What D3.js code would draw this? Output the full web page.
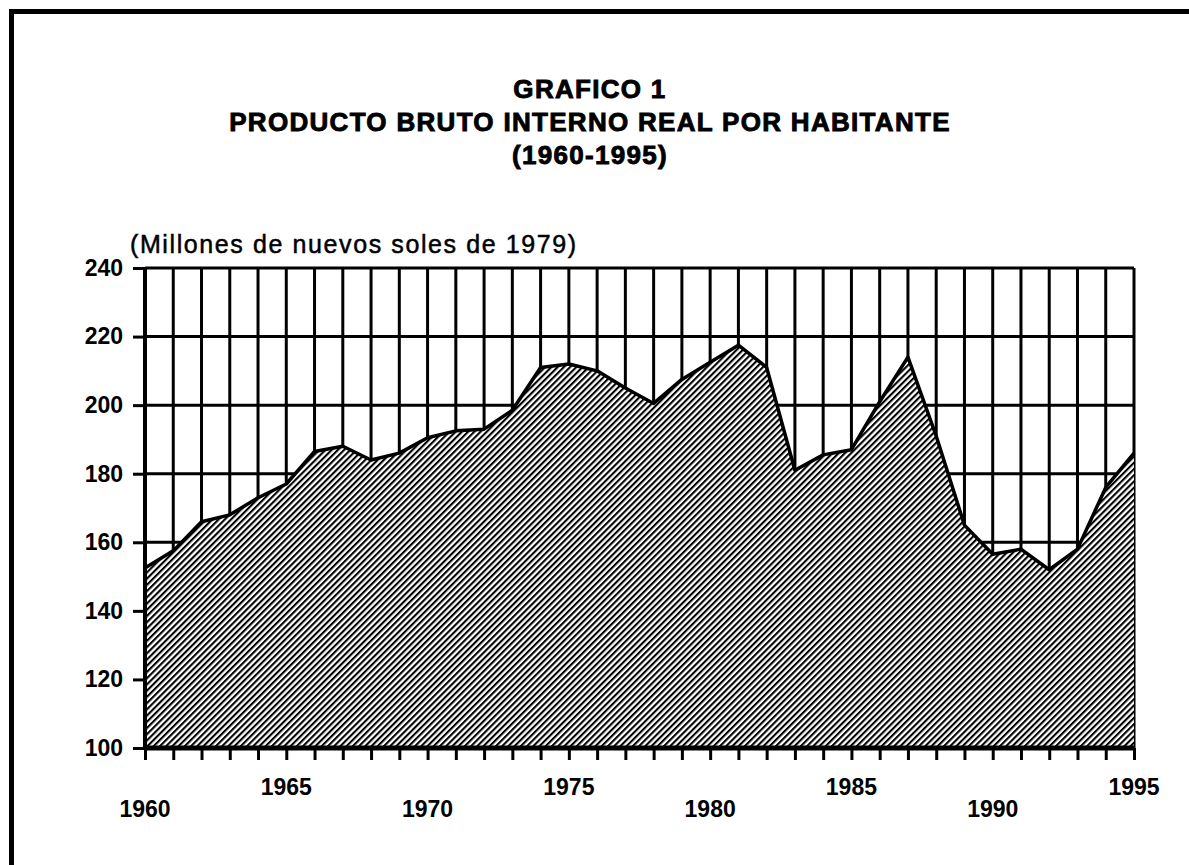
<!DOCTYPE html>
<html>
<head>
	<title>Grafico 1 - PBI real por habitante</title>
	<script src="https://cdnjs.cloudflare.com/ajax/libs/d3/7.8.5/d3.min.js"></script>
	<style>
		body { margin: 0; background: #fff; }
		text { font-family: "Liberation Sans", Arial, Helvetica, sans-serif; fill: #000; }
	</style>
</head>
<body>

<svg width="1189" height="865"></svg>

<script type="text/javascript">

	// datos
	var years = [1960, 1961, 1962, 1963, 1964, 1965, 1966, 1967, 1968, 1969,
	             1970, 1971, 1972, 1973, 1974, 1975, 1976, 1977, 1978, 1979,
	             1980, 1981, 1982, 1983, 1984, 1985, 1986, 1987, 1988, 1989,
	             1990, 1991, 1992, 1993, 1994, 1995];
	var pbi = [152.5, 157.5, 166, 168, 173, 177, 186.5, 188, 184, 186,
	           190.5, 192.5, 193, 198.5, 211, 212, 210, 205, 200.5, 207.5,
	           212.5, 217.5, 211, 181, 185.5, 187, 201, 214, 191, 165,
	           156.5, 158, 152, 158, 176, 186];
	var yTicks = [100, 120, 140, 160, 180, 200, 220, 240];
	var xLabelsUpper = [1965, 1975, 1985, 1995];
	var xLabelsLower = [1960, 1970, 1980, 1990];
	var titleLines = ["GRAFICO 1", "PRODUCTO BRUTO INTERNO REAL POR HABITANTE", "(1960-1995)"];
	var unitLabel = "(Millones de nuevos soles de 1979)";

	var data = years.map(function(d, i) { return {year: d, value: pbi[i]}; });

	var svg = d3.select("svg"),
	    margin = {top: 268, right: 55, bottom: 117, left: 145},
	    width = +svg.attr("width") - margin.left - margin.right,
	    height = +svg.attr("height") - margin.top - margin.bottom;

	// marco de la pagina (solo se ven borde izquierdo y superior)
	svg.append("rect")
		.attr("x", 11.5).attr("y", 11.5)
		.attr("width", 1400).attr("height", 1200)
		.attr("fill", "none")
		.attr("stroke", "#000")
		.attr("stroke-width", 5);

	// trama diagonal
	var pattern = svg.append("defs").append("pattern")
		.attr("id", "hatch")
		.attr("patternUnits", "userSpaceOnUse")
		.attr("width", 4.4)
		.attr("height", 10)
		.attr("patternTransform", "rotate(45)");
	pattern.append("rect").attr("width", 4.4).attr("height", 10).attr("fill", "#fff");
	pattern.append("rect").attr("width", 2.1).attr("height", 10).attr("fill", "#000");

	// titulo
	svg.selectAll(".title")
		.data(titleLines)
		.enter().append("text")
		.attr("class", "title")
		.attr("x", 590)
		.attr("y", function(d, i) { return [98, 131, 164][i]; })
		.attr("text-anchor", "middle")
		.attr("font-size", 26)
		.attr("font-weight", "bold")
		.attr("letter-spacing", 1.3)
		.attr("stroke", "#000")
		.attr("stroke-width", 0.9)
		.text(function(d) { return d; });

	svg.append("text")
		.attr("x", 130)
		.attr("y", 253)
		.attr("font-size", 25)
		.attr("letter-spacing", 1.6)
		.attr("stroke", "#000")
		.attr("stroke-width", 0.5)
		.text(unitLabel);

	var g = svg.append("g").attr("transform", "translate(" + margin.left + "," + margin.top + ")");

	var x = d3.scaleLinear().domain([1960, 1995]).range([0, width]);
	var y = d3.scaleLinear().domain([100, 240]).range([height, 0]);

	// cuadricula
	g.append("g").selectAll("line")
		.data(years)
		.enter().append("line")
		.attr("x1", function(d) { return x(d); })
		.attr("x2", function(d) { return x(d); })
		.attr("y1", y(240))
		.attr("y2", y(100))
		.attr("stroke", "#000")
		.attr("stroke-width", 3);

	g.append("g").selectAll("line")
		.data(yTicks)
		.enter().append("line")
		.attr("x1", 0)
		.attr("x2", width)
		.attr("y1", function(d) { return y(d); })
		.attr("y2", function(d) { return y(d); })
		.attr("stroke", "#000")
		.attr("stroke-width", 3);

	var area = d3.area()
		.x(function(d) { return x(d.year); })
		.y0(y(100))
		.y1(function(d) { return y(d.value); });

	var line = d3.line()
		.x(function(d) { return x(d.year); })
		.y(function(d) { return y(d.value); });

	g.append("path")
		.attr("fill", "url(#hatch)")
		.attr("d", area(data));

	g.append("path")
		.attr("fill", "none")
		.attr("stroke", "#000")
		.attr("stroke-width", 3.5)
		.attr("stroke-linejoin", "round")
		.attr("d", line(data));

	// ejes
	var xAxis = g.append("g")
		.attr("transform", "translate(0," + height + ")")
		.call(d3.axisBottom(x).tickValues(years).tickSize(12).tickFormat(""));
	xAxis.select(".domain").attr("stroke-width", 5).attr("d", "M0,0H" + width);
	xAxis.selectAll(".tick line").attr("stroke-width", 3);

	var yAxis = g.append("g")
		.call(d3.axisLeft(y).tickValues(yTicks).tickSize(12).tickPadding(10));
	yAxis.select(".domain").attr("stroke-width", 4).attr("d", "M0," + height + "V0");
	yAxis.selectAll(".tick line").attr("stroke-width", 3);
	yAxis.selectAll(".tick text")
		.attr("font-family", "Liberation Sans, Arial, sans-serif")
		.attr("font-size", 23)
		.attr("font-weight", "bold");

	// etiquetas de anos en dos filas
	g.selectAll(".xup")
		.data(xLabelsUpper)
		.enter().append("text")
		.attr("class", "xup")
		.attr("x", function(d) { return x(d); })
		.attr("y", height + 47)
		.attr("text-anchor", "middle")
		.attr("font-size", 23)
		.attr("font-weight", "bold")
		.text(function(d) { return d; });

	g.selectAll(".xlow")
		.data(xLabelsLower)
		.enter().append("text")
		.attr("class", "xlow")
		.attr("x", function(d) { return x(d); })
		.attr("y", height + 69)
		.attr("text-anchor", "middle")
		.attr("font-size", 23)
		.attr("font-weight", "bold")
		.text(function(d) { return d; });

</script>

</body>
</html>
